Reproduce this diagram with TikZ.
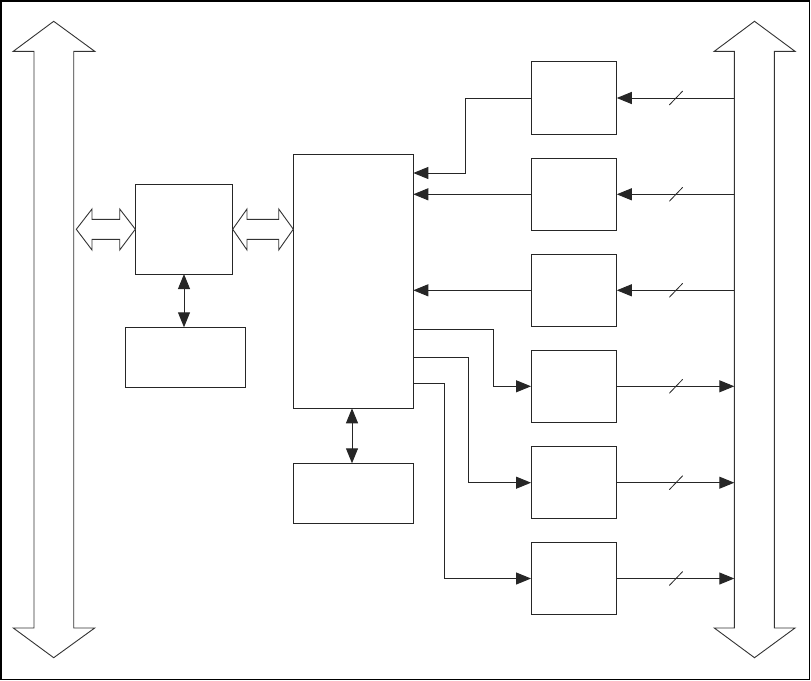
\documentclass[tikz,border=0pt]{standalone}
\usetikzlibrary{arrows.meta}
\begin{document}
\begin{tikzpicture}[x=1pt,y=-1pt,
  box/.style={draw=black!85,line width=1pt,inner sep=0pt,outer sep=0pt,fill=white},
  rbox/.style={box,minimum width=85.7pt,minimum height=72.3pt},
  conn/.style={draw=black!85,line width=1pt},
  arr/.style={conn,-{Triangle[length=15pt,width=12pt]}},
  darr/.style={conn,{Triangle[length=15pt,width=12pt]}-{Triangle[length=15pt,width=12pt]}},
  hollow/.style={draw=black!80,line width=0.9pt,fill=white,line join=miter},
  slash/.style={draw=black!85,line width=0.8pt}]
\useasboundingbox (0,0) rectangle (811,680);
\draw[line width=1.5pt] (1,1) rectangle (809.5,679.3);

% big buses
\draw[hollow] (34,628) -- (34,51.3) -- (13.3,51.3) -- (53.7,21.3) -- (94.7,51.3) -- (73.7,51.3)
  -- (73.7,628) -- (94.7,628) -- (53.7,657.7) -- (13.3,628) -- cycle;
\draw[hollow] (734.3,628) -- (734.3,51.3) -- (714.3,51.3) -- (754.5,21.3) -- (795,51.3) -- (774.3,51.3)
  -- (774.3,628) -- (795,628) -- (754.5,657.7) -- (714.3,628) -- cycle;

% boxes
\node[box,minimum width=97.4pt,minimum height=89.7pt] (A) at (184,229.2) {};
\node[box,minimum width=120pt,minimum height=253.6pt] (B) at (353.3,281.5) {};
\node[box,minimum width=120.4pt,minimum height=60pt] (C) at (185.5,357.3) {};
\node[box,minimum width=120pt,minimum height=60pt] (D) at (353.5,493.3) {};

\node[rbox] (b1) at (573.9,98) {};
\node[rbox] (b2) at (573.9,194.3) {};
\node[rbox] (b3) at (573.9,290.3) {};
\node[rbox] (b4) at (573.9,386.3) {};
\node[rbox] (b5) at (573.9,482.7) {};
\node[rbox] (b6) at (573.9,578.5) {};

% hollow double arrows
\draw[hollow] (76.3,229.3) -- (92,209) -- (92,219.3) -- (119.7,219.3) -- (119.7,209) -- (A.west)
  -- (119.7,250) -- (119.7,239.3) -- (92,239.3) -- (92,250) -- cycle;
\draw[hollow] (A.east) -- (247,209) -- (247,219.3) -- (278.7,219.3) -- (278.7,209) -- (B.west |- A.east)
  -- (278.7,250) -- (278.7,239.3) -- (247,239.3) -- (247,250) -- cycle;

% vertical double arrows
\draw[darr] (A.south) -- (A.south |- C.north);
\draw[darr] ([xshift=-1.3pt]B.south) -- ([xshift=-1.3pt]B.south |- D.north);

% helper coordinates
\coordinate (busx) at (734.3,0);
\coordinate (slx) at (676,0);
\coordinate (k1) at (465.3,173);
\coordinate (y4) at (493,329);
\coordinate (y5) at (468.3,357);
\coordinate (y6) at (444.3,383.3);

% outputs of top boxes into B
\draw[arr] (b1.west) -| (k1) -- (k1 -| B.east);
\draw[arr] (b2.west) -- (b2.west -| B.east);
\draw[arr] (b3.west) -- (b3.west -| B.east);

% B into lower boxes
\draw[arr] (y4 -| B.east) -- (y4) |- (b4.west);
\draw[arr] (y5 -| B.east) -- (y5) |- (b5.west);
\draw[arr] (y6 -| B.east) -- (y6) |- (b6.west);

% bus to top boxes
\foreach \b in {b1,b2,b3}{
  \draw[arr] (busx |- \b.east) -- (\b.east);
  \coordinate (s) at (slx |- \b.east);
  \draw[slash] ([shift={(-6.7,7)}]s) -- ([shift={(6.7,-7)}]s);
}
% lower boxes to bus
\foreach \b in {b4,b5,b6}{
  \draw[arr] (\b.east) -- (busx |- \b.east);
  \coordinate (s) at (slx |- \b.east);
  \draw[slash] ([shift={(-6.7,7)}]s) -- ([shift={(6.7,-7)}]s);
}
\end{tikzpicture}
\end{document}
